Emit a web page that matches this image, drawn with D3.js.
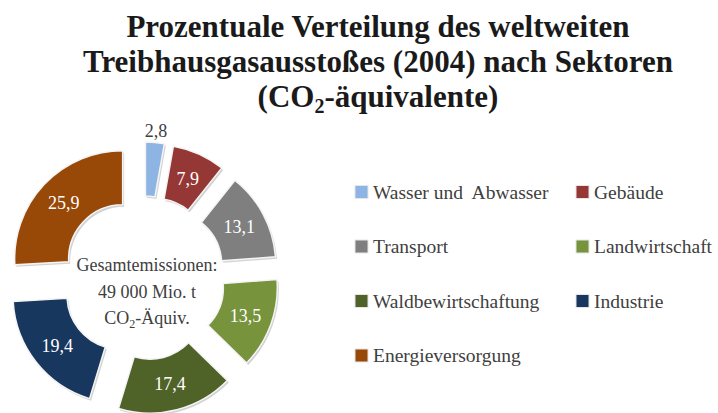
<!DOCTYPE html>
<html>
<head>
<meta charset="utf-8">
<script src="https://cdn.jsdelivr.net/npm/d3@7"></script>
<style>
  html, body { margin: 0; padding: 0; background: #fff; }
  svg { display: block; }
</style>
</head>
<body>
<div id="chart"></div>
<script>
// Sectors, shares (%) and colours
const sectors = ['Wasser und  Abwasser', 'Gebäude', 'Transport', 'Landwirtschaft',
  'Waldbewirtschaftung', 'Industrie', 'Energieversorgung']
const shares = [2.8, 7.9, 13.1, 13.5, 17.4, 19.4, 25.9]
const colors = ['#8db4e2', '#953735', '#7f7f7f', '#77933c', '#4f6228', '#17375e', '#984807']
const titleLines = ['Prozentuale Verteilung des weltweiten', 'Treibhausgasausstoßes (2004) nach Sektoren']
const centerLines = ['Gesamtemissionen:', '49 000 Mio. t']

const W = 718, H = 413
const FONT = 'Liberation Serif'

const svg = d3.select('#chart').append('svg')
  .attr('width', W).attr('height', H)
  .attr('font-family', FONT)

// Title
const title = svg.append('text')
  .attr('font-family', FONT)
  .attr('text-anchor', 'middle')
  .attr('font-weight', 'bold')
  .attr('font-size', 31)
  .attr('fill', '#1a1a1a')
titleLines.forEach((t, i) => {
  title.append('tspan').attr('x', 378).attr('y', 37 + i * 35).text(t)
})
const t3 = title.append('tspan').attr('x', 378).attr('y', 107)
t3.append('tspan').text('(CO')
t3.append('tspan').attr('font-size', 20).attr('dy', 6).text('2')
t3.append('tspan').attr('dy', -6).text('-äquivalente)')

// Donut
const cx = 143, cy = 278
const outerR = 108, innerR = 54, explode = 28

const pie = d3.pie().sort(null).value(d => d)
const arcs = pie(shares)
const arc = d3.arc().innerRadius(innerR).outerRadius(outerR)

const g = svg.append('g').attr('transform', `translate(${cx},${cy})`)

const offset = d => {
  const a = (d.startAngle + d.endAngle) / 2
  return [Math.sin(a) * explode, -Math.cos(a) * explode]
}

const slices = g.selectAll('.slice')
  .data(arcs)
  .enter()
  .append('g')
  .attr('class', 'slice')
  .attr('transform', d => `translate(${offset(d)})`)

// soft shadow under each slice
slices.append('path')
  .attr('d', arc)
  .attr('transform', 'translate(1.5,2)')
  .attr('fill', '#000')
  .attr('fill-opacity', 0.18)

slices.append('path')
  .attr('d', arc)
  .attr('fill', (d, i) => colors[i])
  .attr('stroke', '#f4f4f4')
  .attr('stroke-width', 1.5)

// value labels: inside in white, the thin first slice outside
const fmt = v => String(v).replace('.', ',')
const labelArc = d3.arc().innerRadius(120).outerRadius(120)

slices.append('text')
  .attr('font-family', FONT)
  .attr('transform', (d, i) => `translate(${i === 0 ? labelArc.centroid(d) : arc.centroid(d)})`)
  .attr('text-anchor', 'middle')
  .attr('dy', '0.35em')
  .attr('font-size', 18)
  .attr('fill', (d, i) => i === 0 ? '#404040' : '#fff')
  .text(d => fmt(d.data))

// Center text
const center = svg.append('text')
  .attr('font-family', FONT)
  .attr('text-anchor', 'middle')
  .attr('font-size', 18)
  .attr('fill', '#404040')
centerLines.forEach((t, i) => {
  center.append('tspan').attr('x', 147).attr('y', 271 + i * 26.5).text(t)
})
const c3 = center.append('tspan').attr('x', 147).attr('y', 324)
c3.append('tspan').text('CO')
c3.append('tspan').attr('font-size', 12).attr('dy', 4).text('2')
c3.append('tspan').attr('dy', -4).text('-Äquiv.')

// Legend
const legend = svg.append('g')
const item = legend.selectAll('g')
  .data(sectors)
  .enter()
  .append('g')
  .attr('transform', (d, i) => `translate(${355 + (i % 2) * 221},${192 + Math.floor(i / 2) * 54.5})`)

item.append('rect')
  .attr('x', 0).attr('y', -6.5)
  .attr('width', 13).attr('height', 13)
  .attr('fill', (d, i) => colors[i])
  .attr('stroke', '#e6e6e6').attr('stroke-width', 1)

item.append('text')
  .attr('font-family', FONT)
  .attr('x', 18).attr('dy', '0.35em')
  .attr('font-size', 19.5)
  .attr('fill', '#404040')
  .attr('xml:space', 'preserve')
  .text(d => d)
</script>
</body>
</html>
